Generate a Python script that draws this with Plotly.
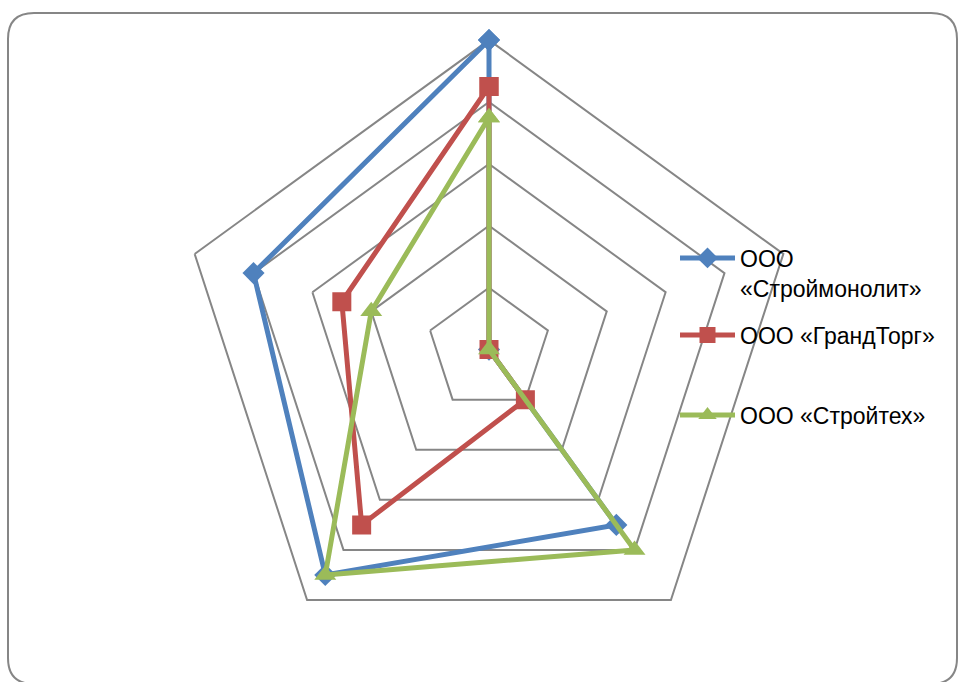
import plotly.graph_objects as go

# Radar axes (five criteria, unlabeled on the chart)
categories = ["K1", "K2", "K3", "K4", "K5"]

# Scores per company
stroymonolit = [5.0, 0.0, 3.5, 4.5, 4.0]
grandtorg = [4.25, 0.0, 1.0, 3.5, 2.5]
stroyteh = [3.75, 0.0, 4.0, 4.5, 2.0]

series_names = ["ООО<br>«Строймонолит»", "ООО «ГрандТорг»", "ООО «Стройтех»"]
series_values = [stroymonolit, grandtorg, stroyteh]
series_colors = ["#4F81BD", "#C0504D", "#9BBB59"]
series_symbols = ["diamond", "square", "triangle-up"]
series_sizes = [17, 19, 19]
legend_ids = ["legend", "legend2", "legend3"]

SCALE_MAX = 5      # outermost grid ring
RANGE_PAD = 0.35   # extra room so markers on the outer ring are not clipped

W, H = 958, 682
FONT = "Liberation Sans"

fig = go.Figure()
for name, vals, col, sym, sz, lg in zip(series_names, series_values, series_colors,
                                        series_symbols, series_sizes, legend_ids):
    fig.add_trace(go.Scatterpolar(
        r=vals + vals[:1],
        theta=categories + categories[:1],
        mode="lines+markers",
        name=name,
        line=dict(color=col, width=5),
        marker=dict(symbol=sym, size=sz, color=col),
        cliponaxis=True,
        legend=lg,
    ))

# outer grid ring: center (489, 349.6) px, radius 309.5 px
cx, cy, R_ring = 489.0, 349.6, 309.5
R = R_ring * (SCALE_MAX + RANGE_PAD) / SCALE_MAX
dom_x = [(cx - R) / W, (cx + R) / W]
dom_y = [1 - (cy + R) / H, 1 - (cy - R) / H]


def px(x):
    return x / W


def py(y):
    return 1 - y / H


# rounded chart border
x0, y0, x1, y1, rad = 8, 13, 957, 684, 26
border = (
    f"M {px(x0)},{py(y0 + rad)} "
    f"Q {px(x0)},{py(y0)} {px(x0 + rad)},{py(y0)} "
    f"L {px(x1 - rad)},{py(y0)} "
    f"Q {px(x1)},{py(y0)} {px(x1)},{py(y0 + rad)} "
    f"L {px(x1)},{py(y1 - rad)} "
    f"Q {px(x1)},{py(y1)} {px(x1 - rad)},{py(y1)} "
    f"L {px(x0 + rad)},{py(y1)} "
    f"Q {px(x0)},{py(y1)} {px(x0)},{py(y1 - rad)} Z"
)

legend_common = dict(
    font=dict(family=FONT, size=23, color="#000000"),
    bgcolor="rgba(0,0,0,0)",
    borderwidth=0,
    itemwidth=55,
    xanchor="left",
    yanchor="middle",
    valign="top",
)

fig.update_layout(
    width=W,
    height=H,
    margin=dict(l=0, r=0, t=0, b=0),
    paper_bgcolor="white",
    plot_bgcolor="white",
    showlegend=True,
    polar=dict(
        domain=dict(x=dom_x, y=dom_y),
        bgcolor="rgba(0,0,0,0)",
        gridshape="linear",
        radialaxis=dict(
            range=[0, SCALE_MAX + RANGE_PAD],
            tick0=0,
            dtick=1,
            showline=False,
            showticklabels=False,
            ticks="",
            gridcolor="#868686",
            gridwidth=1.5,
        ),
        angularaxis=dict(
            rotation=90,
            direction="clockwise",
            showgrid=False,
            showticklabels=False,
            ticks="",
            showline=False,
        ),
    ),
    legend=dict(x=px(675), y=py(273), **legend_common),
    legend2=dict(x=px(675), y=py(335), **legend_common),
    legend3=dict(x=px(675), y=py(415), **legend_common),
    shapes=[dict(type="path", path=border, xref="paper", yref="paper",
                 line=dict(color="#868686", width=2), layer="above")],
)

fig.write_html("out.html")
